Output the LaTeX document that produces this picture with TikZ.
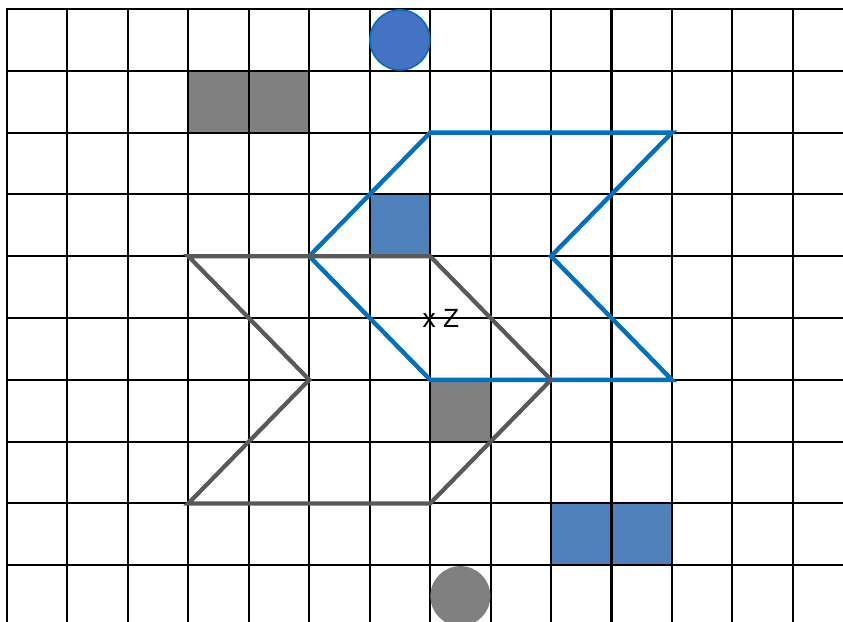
\documentclass[tikz,border=0pt]{standalone}
\usepackage{fontspec}
\setmainfont{Liberation Sans}
\usepackage{xcolor}
\usetikzlibrary{calc}
\definecolor{zblue}{HTML}{0070C0}
\definecolor{cellblue}{HTML}{4F81BD}
\definecolor{dotblue}{HTML}{4472C4}
\definecolor{cellgray}{HTML}{808080}
\definecolor{zgray}{HTML}{595959}
\tikzset{
  gridline/.style={black, line width=1.15pt, line cap=rect},
  graycell/.style={fill=cellgray},
  bluecell/.style={fill=cellblue},
  zblueline/.style={zblue, line width=2.5pt},
  zgrayline/.style={zgray, line width=2.4pt},
  bluedot/.style={circle, fill=dotblue, draw=zblue, line width=0.9pt, minimum size=1.2cm, inner sep=0pt},
  graydot/.style={circle, fill=cellgray, minimum size=1.2cm, inner sep=0pt},
  lbl/.style={font=\fontsize{15}{17}\selectfont, inner sep=0pt, anchor=base}
}

\begin{document}
\begin{tikzpicture}[x=1.209cm, y=-1.236cm]
  \useasboundingbox (-0.116,-0.146) rectangle (13.83,9.919);
  \clip (-0.116,-0.146) rectangle (13.83,9.919);

  % filled cells
  \fill[graycell] (3,1) rectangle (5,2);
  \fill[bluecell] (6,3) rectangle (7,4);
  \fill[graycell] (7,6) rectangle (8,7);
  \fill[bluecell] (9,8) rectangle (11,9);

  % grid
  \foreach \i in {0,...,14}
    \draw[gridline] (\i,0) -- (\i,10.5);
  \foreach \j in {0,...,10}
    \draw[gridline] (0,\j) -- (14.5,\j);

  % dots
  \node[bluedot] (topdot) at (6.5,0.5) {};
  \node[graydot] (botdot) at (7.5,9.5) {};

  % blue shape
  \coordinate (b1) at (7,2);
  \coordinate (b2) at (11,2);
  \coordinate (b3) at (9,4);
  \coordinate (b4) at (11,6);
  \coordinate (b5) at (7,6);
  \coordinate (b6) at (5,4);
  \draw[zblueline] (b1) -- (b2) -- (b3) -- (b4) -- (b5) -- (b6) -- cycle;

  % gray shape
  \coordinate (g1) at (3,4);
  \coordinate (g2) at (7,4);
  \coordinate (g3) at (9,6);
  \coordinate (g4) at (7,8);
  \coordinate (g5) at (3,8);
  \coordinate (g6) at (5,6);
  \draw[zgrayline] (g1) -- (g2) -- (g3) -- (g4) -- (g5) -- (g6) -- cycle;

  \node[lbl] (zlabel) at (7.18,5.16) {x Z};
\end{tikzpicture}
\end{document}
